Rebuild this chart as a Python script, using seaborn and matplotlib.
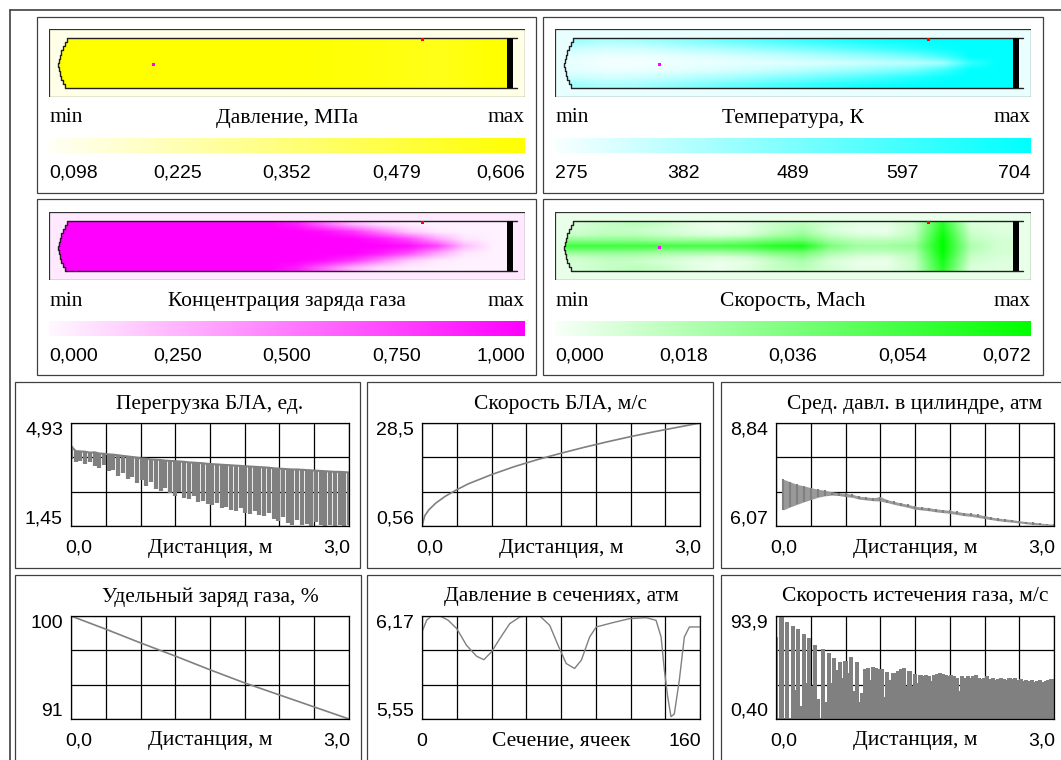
import numpy as np
import matplotlib.pyplot as plt
from matplotlib.colors import LinearSegmentedColormap
from matplotlib.patches import Rectangle, Polygon
import seaborn as sns

# ---------------- colour fields (rows: top -> centre of tube, columns: along tube) ----------------
pressure_field = [[1.00, 1.00, 1.00, 1.00, 1.00, 1.00, 1.00, 1.00, 0.99, 0.98, 0.97, 0.95, 0.92, 0.90, 0.94, 1.00]]

temperature_half = [
    [0.35, 0.30, 0.32, 0.38, 0.45, 0.52, 0.60, 0.68, 0.75, 0.82, 0.88, 0.93, 0.97, 1.00, 1.00, 1.00],
    [0.18, 0.15, 0.16, 0.20, 0.25, 0.30, 0.36, 0.43, 0.50, 0.58, 0.66, 0.75, 0.85, 0.95, 1.00, 1.00],
    [0.08, 0.05, 0.05, 0.07, 0.10, 0.13, 0.17, 0.21, 0.26, 0.32, 0.38, 0.46, 0.55, 0.75, 1.00, 1.00],
    [0.06, 0.02, 0.02, 0.03, 0.04, 0.05, 0.07, 0.09, 0.11, 0.14, 0.18, 0.22, 0.25, 0.35, 0.80, 1.00],
]

charge_half = [
    [1.00, 1.00, 1.00, 1.00, 1.00, 1.00, 1.00, 1.00, 0.90, 0.60, 0.30, 0.12, 0.05, 0.03, 0.03, 0.03],
    [1.00, 1.00, 1.00, 1.00, 1.00, 1.00, 1.00, 1.00, 1.00, 0.95, 0.80, 0.50, 0.20, 0.06, 0.03, 0.03],
    [1.00, 1.00, 1.00, 1.00, 1.00, 1.00, 1.00, 1.00, 1.00, 1.00, 1.00, 0.90, 0.70, 0.35, 0.08, 0.03],
    [1.00, 1.00, 1.00, 1.00, 1.00, 1.00, 1.00, 1.00, 1.00, 1.00, 1.00, 1.00, 0.95, 0.75, 0.25, 0.03],
]

mach_half = [
    [0.15, 0.20, 0.25, 0.20, 0.10, 0.05, 0.10, 0.20, 0.25, 0.15, 0.08, 0.08, 0.20, 0.85, 0.12, 0.10],
    [0.15, 0.20, 0.20, 0.15, 0.08, 0.05, 0.08, 0.20, 0.30, 0.12, 0.05, 0.05, 0.20, 0.90, 0.15, 0.10],
    [0.20, 0.25, 0.25, 0.20, 0.15, 0.12, 0.15, 0.30, 0.40, 0.20, 0.12, 0.10, 0.25, 0.95, 0.20, 0.12],
    [0.45, 0.45, 0.45, 0.40, 0.40, 0.40, 0.45, 0.55, 0.60, 0.35, 0.25, 0.25, 0.30, 1.00, 0.25, 0.15],
    [0.75, 0.75, 0.75, 0.75, 0.72, 0.72, 0.75, 0.85, 0.90, 0.50, 0.35, 0.35, 0.40, 1.00, 0.30, 0.15],
]

pressure_ticks = ['0,098', '0,225', '0,352', '0,479', '0,606']
temperature_ticks = ['275', '382', '489', '597', '704']
charge_ticks = ['0,000', '0,250', '0,500', '0,750', '1,000']
mach_ticks = ['0,000', '0,018', '0,036', '0,054', '0,072']

# ---------------- chart series ----------------
load_top = [4.15, 3.98, 3.97, 3.96, 3.93, 3.94, 3.90, 3.89, 3.87, 3.86, 3.84, 3.82, 3.80, 3.78, 3.76, 3.73,
            3.72, 3.70, 3.69, 3.68, 3.66, 3.65, 3.64, 3.63, 3.62, 3.60, 3.59, 3.58, 3.57, 3.55, 3.54,
            3.53, 3.52, 3.51, 3.50, 3.49, 3.48, 3.47, 3.46, 3.45, 3.44, 3.43, 3.42, 3.40, 3.39,
            3.38, 3.37, 3.36, 3.36, 3.35, 3.34, 3.33, 3.32, 3.31, 3.30, 3.29, 3.28, 3.28, 3.27, 3.26]
load_bottom = [3.70, 3.60, 3.66, 3.55, 3.62, 3.48, 3.40, 3.52, 3.30, 3.35,
               3.15, 3.25, 3.03, 3.10, 2.90, 3.00, 2.80, 2.95, 2.70, 2.62,
               2.75, 2.55, 2.48, 2.60, 2.39, 2.35, 2.45, 2.25, 2.30, 2.18,
               2.15, 2.22, 2.05, 2.10, 1.98, 1.97, 2.05, 1.90, 1.85, 1.95,
               1.82, 1.80, 1.88, 1.70, 1.62, 1.75, 1.55, 1.50, 1.65, 1.47,
               1.52, 1.46, 1.58, 1.47, 1.46, 1.50, 1.46, 1.47, 1.46, 1.48]

speed_x = [0, 0.03, 0.075, 0.15, 0.25, 0.375, 0.5, 0.75, 1.0, 1.25, 1.5, 1.75, 2.0, 2.25, 2.5, 2.75, 3.0]
speed = [0.56, 3.35, 4.98, 6.8, 8.6, 10.4, 12.0, 14.5, 16.7, 18.6, 20.3, 21.9, 23.4, 24.8, 26.1, 27.3, 28.5]

cyl_top = [7.62, 7.33, 7.26, 7.19, 7.15, 7.10, 7.06, 7.03, 6.99, 6.97,
           6.95, 6.92, 6.87, 6.85, 6.83, 6.86, 6.78, 6.73, 6.69, 6.65,
           6.60, 6.58, 6.56, 6.53, 6.51, 6.49, 6.46, 6.43, 6.41, 6.38,
           6.35, 6.31, 6.28, 6.26, 6.24, 6.21, 6.19, 6.17, 6.15, 6.13, 6.12]
cyl_bottom = [6.45, 6.50, 6.58, 6.65, 6.72, 6.78, 6.84, 6.88, 6.90, 6.89,
              6.86, 6.84, 6.79, 6.77, 6.75, 6.74, 6.70, 6.65, 6.61, 6.57,
              6.52, 6.50, 6.48, 6.45, 6.43, 6.41, 6.38, 6.35, 6.33, 6.30,
              6.27, 6.24, 6.21, 6.19, 6.17, 6.15, 6.13, 6.11, 6.10, 6.09, 6.08]

charge_x = [0, 0.375, 0.75, 1.125, 1.5, 1.875, 2.25, 2.625, 3.0]
charge = [100, 98.85, 97.65, 96.5, 95.3, 94.15, 93.1, 92.05, 91.0]

cells = [0, 2.7, 5.5, 10.3, 15, 20, 25.6, 31.4, 35.6, 40, 44.8, 50.5, 56.3, 60, 67.8, 73.5, 78.3, 83,
         87.8, 91.7, 96.5, 100.3, 109.8, 119.4, 129, 134.7, 137.6, 139.5, 141.4, 143.3, 145.2, 148.1,
         151, 153.9, 160]
section_p = [6.074, 6.145, 6.17, 6.17, 6.145, 6.094, 5.994, 5.928, 5.907, 5.954,
             6.034, 6.124, 6.164, 6.17, 6.17, 6.114, 5.994, 5.884, 5.854, 5.904,
             6.044, 6.104, 6.13, 6.154, 6.16, 6.144, 6.044, 5.844, 5.684, 5.564,
             5.58, 5.784, 6.044, 6.104, 6.104]

outflow = [75, 1, 93, 1, 88, 1, 85, 27, 82, 12, 78, 33, 74, 30, 68, 19, 1, 64, 16, 60,
           33, 56, 45, 52, 38, 53, 42, 57, 26, 52, 16, 24, 46, 47, 36, 48, 47, 46, 46, 20,
           43, 36, 42, 42, 44, 46, 47, 30, 44, 30, 41, 33, 40, 39, 40, 39, 35, 40, 41, 42,
           41, 40, 39, 40, 39, 38, 26, 39, 38, 39, 38, 39, 40, 38, 37, 38, 39, 37, 38, 36,
           37, 38, 37, 36, 38, 37, 38, 36, 37, 35, 36, 35, 36, 34, 35, 36, 34, 35, 36, 37, 37]

# ---------------- setup ----------------
sns.set_theme(style='white')
plt.rcParams['font.family'] = ['Liberation Serif', 'DejaVu Serif']
W, H = 1061, 760
fig = plt.figure(figsize=(W / 100, H / 100), dpi=100)
fig.patch.set_facecolor('white')
SERIF = ['Liberation Serif', 'DejaVu Serif']
SANS = ['Liberation Sans', 'DejaVu Sans']
FS = 15.5
NFS = 14
GRAY = '#808080'


def rect(x0, y0, x1, y1):
    return [x0 / W, 1 - y1 / H, (x1 - x0) / W, (y1 - y0) / H]


def ftext(x, y, s, ha='center', va='center', family=SERIF, size=FS):
    fig.text(x / W, 1 - y / H, s, ha=ha, va=va, family=family, fontsize=size, color='black')


def frame(x0, y0, x1, y1, color='#404040'):
    fig.add_artist(Rectangle((x0 / W, 1 - y1 / H), (x1 - x0) / W, (y1 - y0) / H,
                             transform=fig.transFigure, fill=False, ec=color, lw=0.9))


# outer frame
fig.add_artist(plt.Line2D([10 / W, 1], [1 - 10 / H] * 2, color='#404040', lw=1.2))
fig.add_artist(plt.Line2D([10 / W] * 2, [0, 1 - 10 / H], color='#404040', lw=1.2))

LIGHT = {'#FFFF00': '#FFFFF5', '#00FFFF': '#F8FFFF', '#FF00FF': '#FFF8FF', '#00FF00': '#F8FFF8'}


def field_panel(x0, y0, values, c_max, ticks, title):
    cmap = LinearSegmentedColormap.from_list('f', [LIGHT[c_max], c_max])
    ax = fig.add_axes(rect(x0, y0, x0 + 476, y0 + 68))
    ax.set_xlim(0, 476)
    ax.set_ylim(68, 0)
    ax.axis('off')
    ax.add_patch(Rectangle((0, 0), 476, 68, fc=cmap(0.06), ec='#303030', lw=0.9, zorder=0))
    # stepped nozzle end of the tube
    steps = [(9, 17.7), (13, 15.5), (17, 13.5), (21, 12.0), (26, 10.5), (30, 9.5), (34, 9.0)]
    steps = steps + [(68 - y, x) for y, x in steps[-2::-1]]
    pts = [(458, 9)]
    for i, (y, x) in enumerate(steps):
        pts.append((x, y))
        if i + 1 < len(steps):
            pts.append((x, steps[i + 1][0]))
    pts.append((458, 59))
    poly = Polygon(pts, closed=True, fc='none', ec='none', transform=ax.transData)
    ax.add_patch(poly)
    im = ax.imshow(np.asarray(values), cmap=cmap, vmin=0, vmax=1, aspect='auto',
                   interpolation='bilinear', extent=(9, 458, 59, 9), zorder=1)
    im.set_clip_path(poly)
    ox = [468] + [p[0] for p in pts[1:-1]] + [468]
    oy = [9] + [p[1] for p in pts[1:-1]] + [59]
    ax.plot(ox, oy, color='#202020', lw=1.0, zorder=3)
    ax.add_patch(Rectangle((458, 9), 6, 50, fc='black', ec='none', zorder=4))
    ax.add_patch(Rectangle((371.5, 8.5), 3, 3, fc='red', ec='none', zorder=5))
    ax.add_patch(Rectangle((102.5, 33.5), 3, 3, fc='#FF00FF', ec='none', zorder=5))
    # labels
    ftext(x0, y0 + 89, 'min', ha='left')
    ftext(x0 + 238, y0 + 89, title)
    ftext(x0 + 476, y0 + 89, 'max', ha='right')
    cax = fig.add_axes(rect(x0, y0 + 109, x0 + 476, y0 + 124))
    cax.imshow([np.linspace(0, 1, 256)], cmap=cmap, aspect='auto', interpolation='bilinear')
    cax.axis('off')
    pos = [0.0, 0.27, 0.5, 0.73, 1.0]
    for k, (p, t) in enumerate(zip(pos, ticks)):
        ha = 'left' if k == 0 else 'right' if k == 4 else 'center'
        ftext(x0 + 476 * p, y0 + 144, t, ha=ha, family=SANS, size=NFS)


frame(37, 17, 536, 193)
frame(543, 17, 1043, 193)
frame(37, 199, 536, 375)
frame(543, 199, 1043, 375)

field_panel(49, 29, pressure_field, '#FFFF00', pressure_ticks, 'Давление, МПа')
field_panel(555, 29, temperature_half + temperature_half[-2::-1], '#00FFFF', temperature_ticks, 'Температура, К')
field_panel(49, 212, charge_half + charge_half[-2::-1], '#FF00FF', charge_ticks, 'Концентрация заряда газа')
field_panel(555, 212, mach_half + mach_half[-2::-1], '#00FF00', mach_ticks, 'Скорость, Mach')

# ---------------- charts ----------------
frame(15, 382, 360, 568)
frame(367, 382, 713, 568)
frame(721, 382, 1070, 568)
frame(15, 575, 361, 775)
frame(367, 575, 713, 775)
frame(721, 575, 1070, 775)


def chart(col, row, title, ylo, yhi, ylabels, xlabels, xname, xmax=3.0):
    x0 = [71, 422, 776][col]
    y0 = [423, 616][row]
    ax = fig.add_axes(rect(x0, y0, x0 + 278, y0 + 103))
    ax.set_xlim(0, xmax)
    ax.set_ylim(ylo, yhi)
    ax.set_xticks(np.linspace(0, xmax, 9))
    ax.set_yticks(np.linspace(ylo, yhi, 4))
    ax.grid(True, color='black', lw=0.9)
    ax.set_axisbelow(True)
    ax.tick_params(length=0, labelbottom=False, labelleft=False)
    ax.set_xlabel('')
    ax.set_ylabel('')
    for s in ax.spines.values():
        s.set_visible(True)
        s.set_color('black')
        s.set_linewidth(0.9)
    ftext(x0 + 139, y0 - 19, title)
    ftext(x0 - 8, y0 - 1, ylabels[1], ha='right', va='top', family=SANS, size=NFS)
    ftext(x0 - 8, y0 + 104, ylabels[0], ha='right', va='bottom', family=SANS, size=NFS)
    ftext(x0 - 6, y0 + 125, xlabels[0], ha='left', family=SANS, size=NFS)
    ftext(x0 + 139, y0 + 125, xname)
    ftext(x0 + 279, y0 + 125, xlabels[1], ha='right', family=SANS, size=NFS)
    return ax


DIST = 'Дистанция, м'

ax = chart(0, 0, 'Перегрузка БЛА, ед.', 1.45, 4.93, ['1,45', '4,93'], ['0,0', '3,0'], DIST)
lx = np.linspace(0, 3, len(load_top))
ax.vlines(lx, load_bottom, load_top, color=GRAY, lw=3.0)
sns.lineplot(x=lx, y=load_top, ax=ax, color=GRAY, lw=1.5)

ax = chart(1, 0, 'Скорость БЛА, м/с', 0.56, 28.5, ['0,56', '28,5'], ['0,0', '3,0'], DIST)
sns.lineplot(x=speed_x, y=speed, ax=ax, color=GRAY, lw=1.2)

ax = chart(2, 0, 'Сред. давл. в цилиндре, атм', 6.07, 8.84, ['6,07', '8,84'], ['0,0', '3,0'], DIST)
cx = np.linspace(0, 3, len(cyl_top))
ax.fill_between(cx[1:], cyl_bottom[1:], cyl_top[1:], color='#9A9A9A', lw=0)
ax.vlines(cx, cyl_bottom, cyl_top, color=GRAY, lw=1.5)

ax = chart(0, 1, 'Удельный заряд газа, %', 91, 100, ['91', '100'], ['0,0', '3,0'], DIST)
sns.lineplot(x=charge_x, y=charge, ax=ax, color=GRAY, lw=1.2)

ax = chart(1, 1, 'Давление в сечениях, атм', 5.55, 6.17, ['5,55', '6,17'], ['0', '160'],
           'Сечение, ячеек', xmax=160)
sns.lineplot(x=cells, y=section_p, ax=ax, color=GRAY, lw=1.0)

ax = chart(2, 1, 'Скорость истечения газа, м/с', 0.40, 93.9, ['0,40', '93,9'], ['0,0', '3,0'], DIST)
ox = np.linspace(0, 3, len(outflow))
ax.bar(ox, outflow, width=1.5 * 3 / (len(outflow) - 1), color=GRAY, lw=0, zorder=2)

fig.savefig('out.png', dpi=100)
